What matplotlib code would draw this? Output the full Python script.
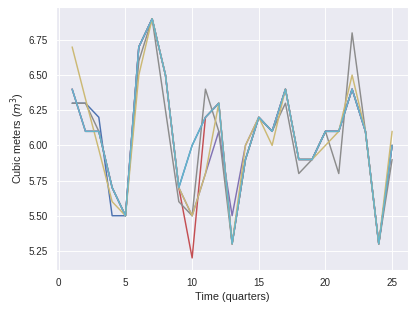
import matplotlib
matplotlib.use('Agg')
import matplotlib.pyplot as plt
import seaborn as sns

sns.set_theme()  # darkgrid, deep palette
plt.rcParams['font.family'] = ['Liberation Sans', 'DejaVu Sans']

quarters = list(range(1, 26))

# each series (overlapping values hide most lines)
blue = [6.3, 6.3, 6.2, 5.5, 5.5, 6.7, 6.9, 6.5, 5.7, 6.0, 6.2, 6.3, 5.3,
        5.9, 6.2, 6.1, 6.4, 5.9, 5.9, 6.1, 6.1, 6.4, 6.1, 5.3, 6.0]
red = [6.4, 6.1, 6.1, 5.7, 5.5, 6.7, 6.9, 6.5, 5.7, 5.2, 6.2, 6.3, 5.3,
       5.9, 6.2, 6.1, 6.4, 5.9, 5.9, 6.1, 6.1, 6.4, 6.1, 5.3, 6.0]
purple = [6.4, 6.1, 6.1, 5.7, 5.5, 6.7, 6.9, 6.5, 5.7, 5.5, 5.8, 6.1, 5.5,
          6.0, 6.2, 6.1, 6.4, 5.9, 5.9, 6.1, 6.1, 6.4, 6.1, 5.3, 6.0]
gray = [6.3, 6.3, 6.1, 5.7, 5.5, 6.6, 6.9, 6.25, 5.6, 5.5, 6.4, 6.1, 5.3,
        5.9, 6.2, 6.1, 6.3, 5.8, 5.9, 6.1, 5.8, 6.8, 6.1, 5.3, 5.9]
tan = [6.7, 6.33, 5.97, 5.6, 5.5, 6.5, 6.9, 6.5, 5.7, 5.5, 5.8, 6.3, 5.3,
       6.0, 6.2, 6.0, 6.4, 5.9, 5.9, 6.0, 6.1, 6.5, 6.1, 5.3, 6.1]
cyan = [6.4, 6.1, 6.1, 5.7, 5.5, 6.7, 6.9, 6.5, 5.7, 6.0, 6.2, 6.3, 5.3,
        5.9, 6.2, 6.1, 6.4, 5.9, 5.9, 6.1, 6.1, 6.4, 6.1, 5.3, 6.0]

pal = sns.color_palette('deep')

fig, ax = plt.subplots(figsize=(6.4, 4.8), dpi=65)
fig.subplots_adjust(left=0.135, right=0.981, top=0.978, bottom=0.135)

ax.plot(quarters, blue, color=pal[0], lw=1.6)
ax.plot(quarters, red, color=pal[3], lw=1.6)
ax.plot(quarters, purple, color=pal[4], lw=1.6)
ax.plot(quarters, gray, color=pal[7], lw=1.6)
ax.plot(quarters, tan, color=pal[8], lw=1.6)
ax.plot(quarters, cyan, color=pal[9], lw=1.6)

ax.set_xlabel('Time (quarters)')
ax.set_ylabel('Cubic meters ($m^3$)', labelpad=2)

fig.savefig('out.png', dpi=65)
